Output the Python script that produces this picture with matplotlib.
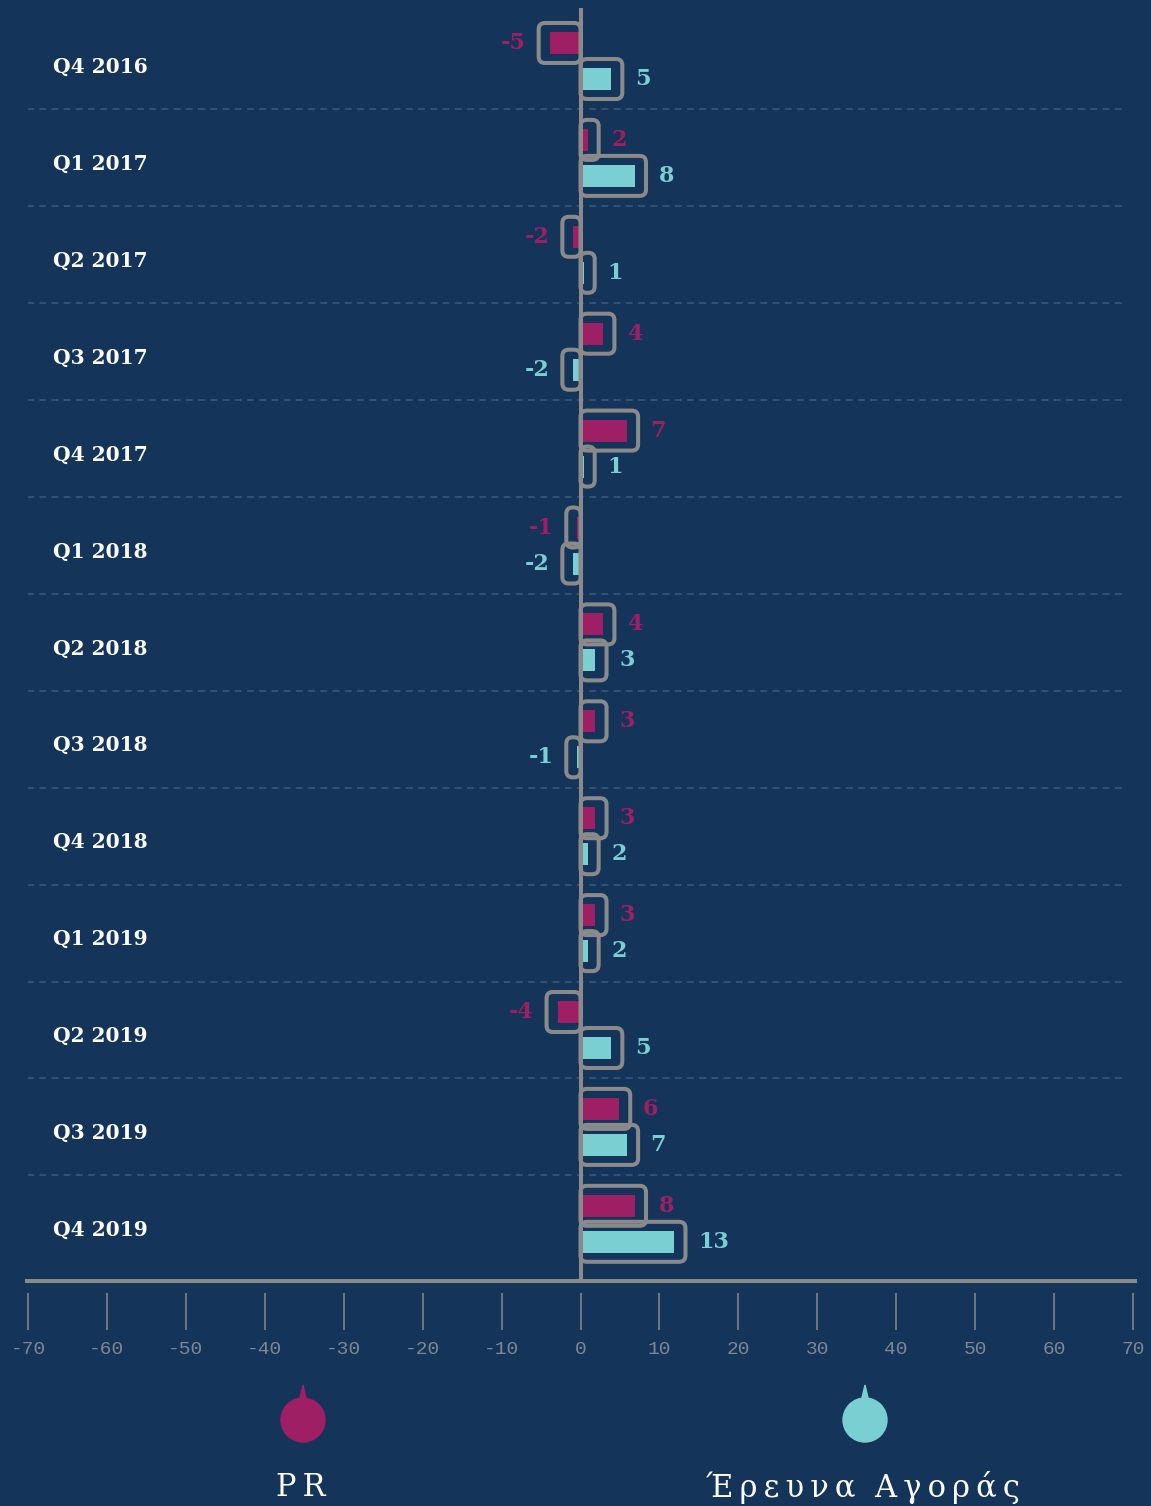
# Quarterly change: PR vs market research (Έρευνα Αγοράς), diverging bars
import matplotlib.pyplot as plt
from matplotlib.patches import FancyBboxPatch, Circle, Polygon

periods = ["Q4 2016", "Q1 2017", "Q2 2017", "Q3 2017", "Q4 2017", "Q1 2018",
           "Q2 2018", "Q3 2018", "Q4 2018", "Q1 2019", "Q2 2019", "Q3 2019", "Q4 2019"]
pr = [-5, 2, -2, 4, 7, -1, 4, 3, 3, 3, -4, 6, 8]
research = [5, 8, 1, -2, 1, -2, 3, -1, 2, 2, 5, 7, 13]
ticks = list(range(-70, 71, 10))

BG = "#15345a"
PINK = "#9e1f63"
CYAN = "#79cfd2"
GRAY = "#8a8a8a"
SEP = "#3a5a80"

W, H = 1151, 1506
fig = plt.figure(figsize=(W / 100, H / 100), dpi=100, facecolor=BG)

# main axes: x from -70..70 maps to px 28..1133, y from px 8..1281
top_px, bot_px = 8, 1281
row0, row_h = 61, 96.9
ax = fig.add_axes([28 / W, (H - bot_px) / H, 1105 / W, (bot_px - top_px) / H])
ax.set_facecolor(BG)
ax.set_xlim(-70, 70)
ybot = (bot_px - row0) / row_h
ytop = (top_px - row0) / row_h
ax.set_ylim(ybot, ytop)

px_x = 1105 / 140          # px per x unit
px_y = (bot_px - top_px) / (ybot - ytop)   # px per y unit
aspect = (1 / px_y) / (1 / px_x)

off = 18 / px_y
bar_h = 22 / px_y
box_h = 40 / px_y
pad_x = 1.4


def draw_series(vals, dy, color):
    for i, v in enumerate(vals):
        s = 1 if v >= 0 else -1
        inner = max(abs(v) - 1.1, 0.4)
        y = i + dy
        ax.barh(y, s * inner, height=bar_h, color=color, zorder=3)
        end = s * (inner + pad_x)
        x0 = min(0, end)
        box = FancyBboxPatch((x0, y - box_h / 2), abs(end), box_h,
                             boxstyle="round,pad=0,rounding_size=0.8",
                             mutation_aspect=aspect, fill=False,
                             edgecolor=GRAY, linewidth=2.9, zorder=4)
        ax.add_patch(box)
        ax.text(end + s * 1.6, y, str(v), color=color, fontsize=16,
                fontweight="bold", family="DejaVu Serif",
                ha="left" if s > 0 else "right", va="center", zorder=5)


draw_series(pr, -off, PINK)
draw_series(research, off, CYAN)

# row labels and separators
for i, p in enumerate(periods):
    ax.text(-66.8, i + 6 / px_y, p, color="white", fontsize=14.5,
            fontweight="bold", family="DejaVu Serif", ha="left", va="center")
ax.hlines([i + 0.5 for i in range(len(periods) - 1)], -70.1, 69.2,
          colors=SEP, linewidth=1.1, linestyles=(0, (4.5, 3.5)), zorder=1)

# zero line and bottom axis line
ax.axvline(0, color=GRAY, linewidth=2.9, zorder=6)
ax.axhline(ybot, xmin=-0.001, xmax=1.002, color=GRAY, linewidth=2.9,
           clip_on=False, zorder=6)

for sp in ax.spines.values():
    sp.set_visible(False)
ax.spines["bottom"].set_position(("outward", 8.6))
ax.set_yticks([])
ax.set_xticks(ticks)
ax.set_xticklabels([str(t) for t in ticks], family="Liberation Mono",
                   fontsize=14, color="#7d8796")
ax.tick_params(axis="x", length=26.6, width=1.1, color=GRAY, pad=8)

# legend overlay in pixel coordinates
lg = fig.add_axes([0, 0, 1, 1], facecolor="none")
lg.set_xlim(0, W)
lg.set_ylim(H, 0)
lg.axis("off")
for cx, color, name in [(303, PINK, "P\u2009R"),
                        (865, CYAN, "\u2009".join("Έρευνα") + "  " + "\u2009".join("Αγοράς"))]:
    lg.add_patch(Circle((cx, 1420), 22, color=color))
    lg.add_patch(Polygon([(cx - 4, 1402), (cx, 1385), (cx + 4, 1402)], color=color))
    lg.text(cx - 2, 1487, name, color="white", fontsize=22, family="DejaVu Serif",
            ha="center", va="center")

fig.savefig("out.png", dpi=100, facecolor=BG)
